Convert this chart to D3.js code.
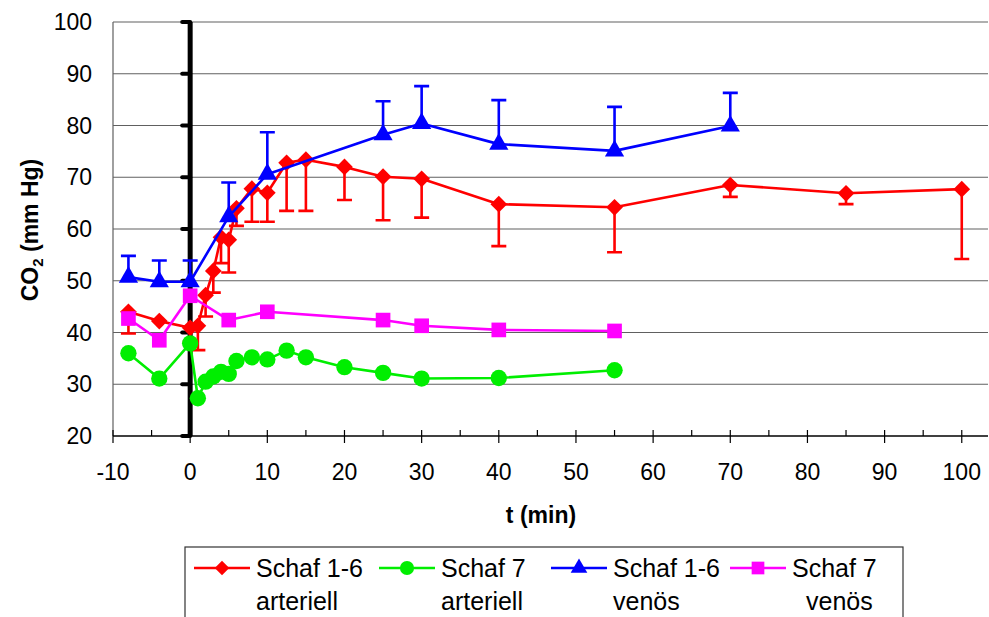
<!DOCTYPE html>
<html>
<head>
<meta charset="utf-8">
<script src="https://cdn.jsdelivr.net/npm/d3@7"></script>
<style>
  body { margin: 0; background: #fff; }
  svg { display: block; font-family: "Liberation Sans", Arial, sans-serif; }
</style>
</head>
<body>
<svg id="chart" width="989" height="617"></svg>
<script>
// data
const redX = [-8, -4, 0, 1, 2, 3, 4, 5, 6, 8, 10, 12.5, 15, 20, 25, 30, 40, 55, 70, 85, 100];
const redY = [44.0, 42.2, 40.9, 41.3, 47.2, 51.9, 58.4, 57.9, 64.0, 67.8, 67.0, 72.8, 73.4, 72.0, 70.1, 69.7, 64.8, 64.2, 68.5, 66.9, 67.7];
const redLow = [39.8, null, 38.2, 36.6, 43.1, 47.7, 53.4, 51.6, 60.6, 61.4, 61.4, 63.5, 63.5, 65.6, 61.7, 62.2, 56.7, 55.5, 66.2, 64.8, 54.2];

const greenX = [-8, -4, 0, 1, 2, 3, 4, 5, 6, 8, 10, 12.5, 15, 20, 25, 30, 40, 55];
const greenY = [36.0, 31.1, 37.9, 27.3, 30.5, 31.5, 32.4, 32.0, 34.5, 35.2, 34.8, 36.5, 35.2, 33.3, 32.2, 31.1, 31.2, 32.7];

const blueX = [-8, -4, 0, 5, 10, 25, 30, 40, 55, 70];
const blueY = [50.7, 49.8, 49.8, 62.4, 70.6, 78.2, 80.4, 76.4, 75.1, 79.9];
const blueHigh = [54.8, 53.9, 53.9, 69.0, 78.7, 84.7, 87.6, 84.9, 83.6, 86.3];

const magentaX = [-8, -4, 0, 5, 10, 25, 30, 40, 55];
const magentaY = [42.7, 38.5, 47.1, 42.4, 44.0, 42.4, 41.3, 40.5, 40.3];

const xTicks = [-10, 0, 10, 20, 30, 40, 50, 60, 70, 80, 90, 100];
const xMinorTicks = [-5, 5, 15, 25, 35, 45, 55, 65, 75, 85, 95];
const yTicks = [20, 30, 40, 50, 60, 70, 80, 90, 100];

const seriesNames = [
  ["Schaf 1-6", "arteriell"],
  ["Schaf 7", "arteriell"],
  ["Schaf 1-6", "venös"],
  ["Schaf 7", "venös"]
];

// layout
const plot = { left: 113, right: 988, top: 22, bottom: 436 };
const svg = d3.select("#chart");

const x = d3.scaleLinear().domain([-10, 103.4]).range([plot.left, plot.right]);
const y = d3.scaleLinear().domain([20, 100]).range([plot.bottom, plot.top]);

// diamonds are squares turned 45 degrees
const series = [
  { xs: redX, ys: redY, err: redLow, color: "#ff0000", symbol: d3.symbolSquare, size: 140, rot: 45 },
  { xs: greenX, ys: greenY, err: null, color: "#00ee00", symbol: d3.symbolCircle, size: 210, rot: 0 },
  { xs: blueX, ys: blueY, err: blueHigh, color: "#0000ff", symbol: d3.symbolTriangle, size: 160, rot: 0 },
  { xs: magentaX, ys: magentaY, err: null, color: "#ff00ff", symbol: d3.symbolSquare, size: 215, rot: 0 }
];

// gridlines
svg.append("g")
  .selectAll("line")
  .data(yTicks.filter(v => v > 20))
  .join("line")
  .attr("x1", plot.left).attr("x2", plot.right)
  .attr("y1", d => y(d)).attr("y2", d => y(d))
  .attr("stroke", "#606060").attr("stroke-width", 1.2);

// left border
svg.append("line")
  .attr("x1", plot.left).attr("x2", plot.left)
  .attr("y1", plot.top).attr("y2", plot.bottom)
  .attr("stroke", "#606060").attr("stroke-width", 1.2);

// x axis
const xAxis = svg.append("g");
xAxis.append("line")
  .attr("x1", plot.left).attr("x2", plot.right)
  .attr("y1", plot.bottom).attr("y2", plot.bottom)
  .attr("stroke", "#000").attr("stroke-width", 1.4);
xAxis.selectAll("line.major")
  .data(xTicks)
  .join("line")
  .attr("class", "major")
  .attr("x1", d => x(d)).attr("x2", d => x(d))
  .attr("y1", plot.bottom - 6).attr("y2", plot.bottom + 7)
  .attr("stroke", "#000").attr("stroke-width", 1.2);
xAxis.selectAll("line.minor")
  .data(xMinorTicks)
  .join("line")
  .attr("class", "minor")
  .attr("x1", d => x(d)).attr("x2", d => x(d))
  .attr("y1", plot.bottom - 6).attr("y2", plot.bottom)
  .attr("stroke", "#000").attr("stroke-width", 1.2);
xAxis.selectAll("text")
  .data(xTicks)
  .join("text")
  .attr("x", d => x(d))
  .attr("y", 480)
  .attr("text-anchor", "middle")
  .attr("font-size", 23)
  .text(d => d);

// y axis labels
svg.append("g")
  .selectAll("text")
  .data(yTicks)
  .join("text")
  .attr("x", 92)
  .attr("y", d => y(d))
  .attr("dy", "0.35em")
  .attr("text-anchor", "end")
  .attr("font-size", 23)
  .text(d => d);

// thick y axis at t = 0
const x0 = x(0);
svg.append("line")
  .attr("x1", x0).attr("x2", x0)
  .attr("y1", plot.top).attr("y2", plot.bottom)
  .attr("stroke", "#000").attr("stroke-width", 5);
svg.append("g")
  .selectAll("line")
  .data(yTicks)
  .join("line")
  .attr("x1", x0 - 8).attr("x2", x0)
  .attr("y1", d => y(d)).attr("y2", d => y(d))
  .attr("stroke", "#000").attr("stroke-width", 4)
  .attr("stroke-linecap", "round");

// axis titles
svg.append("text")
  .attr("x", 541).attr("y", 523)
  .attr("text-anchor", "middle")
  .attr("font-size", 23).attr("font-weight", "bold")
  .text("t (min)");

const yTitle = svg.append("text")
  .attr("transform", "translate(38,230) rotate(-90)")
  .attr("text-anchor", "middle")
  .attr("font-size", 23).attr("font-weight", "bold");
yTitle.append("tspan").text("CO");
yTitle.append("tspan").attr("font-size", 15).attr("dy", 5).text("2");
yTitle.append("tspan").attr("dy", -5).text(" (mm Hg)");

// series
const line = d3.line().x(d => x(d[0])).y(d => y(d[1]));

series.forEach(s => {
  const g = svg.append("g");
  const pts = s.xs.map((v, i) => [v, s.ys[i], s.err ? s.err[i] : null]);

  // error bars
  g.selectAll("path.err")
    .data(pts.filter(p => p[2] != null))
    .join("path")
    .attr("class", "err")
    .attr("d", p => `M${x(p[0])},${y(p[1])}V${y(p[2])}M${x(p[0]) - 7.5},${y(p[2])}h15`)
    .attr("fill", "none")
    .attr("stroke", s.color).attr("stroke-width", 2.6);

  g.append("path")
    .datum(pts)
    .attr("d", line)
    .attr("fill", "none")
    .attr("stroke", s.color).attr("stroke-width", 2.6)
    .attr("stroke-linejoin", "round");

  g.selectAll("path.mark")
    .data(pts)
    .join("path")
    .attr("class", "mark")
    .attr("transform", p => `translate(${x(p[0])},${y(p[1])}) rotate(${s.rot})`)
    .attr("d", d3.symbol(s.symbol, s.size))
    .attr("fill", s.color);
});

// legend
const legendTextX = [256, 441, 613, 792];
const legendSecondDx = [0, 0, 0, 14];
const legend = svg.append("g");
legend.append("rect")
  .attr("x", 185).attr("y", 547)
  .attr("width", 718).attr("height", 80)
  .attr("fill", "#fff")
  .attr("stroke", "#333").attr("stroke-width", 1.2);

series.forEach((s, i) => {
  const tx = legendTextX[i];
  const ly = 568;
  legend.append("line")
    .attr("x1", tx - 62).attr("x2", tx - 6)
    .attr("y1", ly).attr("y2", ly)
    .attr("stroke", s.color).attr("stroke-width", 2.6);
  legend.append("path")
    .attr("transform", `translate(${tx - 34},${ly}) rotate(${s.rot})`)
    .attr("d", d3.symbol(s.symbol, s.size * 0.75))
    .attr("fill", s.color);
  legend.append("text")
    .attr("x", tx).attr("y", 577)
    .attr("font-size", 25)
    .text(seriesNames[i][0]);
  legend.append("text")
    .attr("x", tx + legendSecondDx[i]).attr("y", 610)
    .attr("font-size", 25)
    .text(seriesNames[i][1]);
});
</script>
</body>
</html>
